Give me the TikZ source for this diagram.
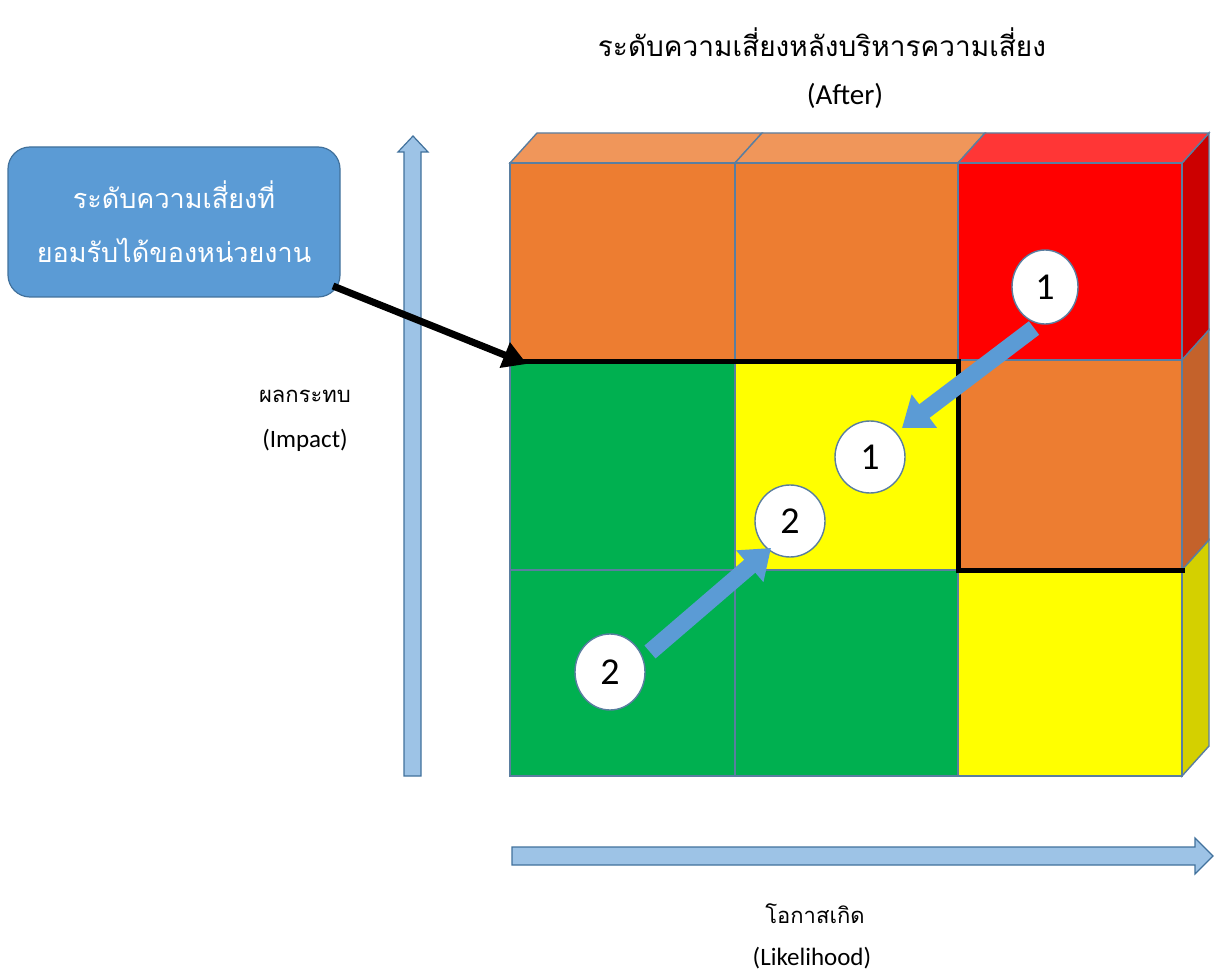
\documentclass[tikz,border=0pt]{standalone}
\usepackage{fontspec}
\setmainfont{Carlito}
\newfontfamily\thai[Script=Thai]{Loma}
\usetikzlibrary{calc,arrows.meta}
\definecolor{gridline}{HTML}{5A7EA0}
\definecolor{cor}{HTML}{ED7D31}
\definecolor{corT}{HTML}{F0965A}
\definecolor{corS}{HTML}{C4622B}
\definecolor{cred}{HTML}{FF0000}
\definecolor{credT}{HTML}{FF3636}
\definecolor{credS}{HTML}{CC0000}
\definecolor{cgreen}{HTML}{00B050}
\definecolor{cyel}{HTML}{FFFF00}
\definecolor{cyelS}{HTML}{D4D000}
\definecolor{boxblue}{HTML}{5B9BD5}
\definecolor{boxline}{HTML}{41719C}
\definecolor{axisblue}{HTML}{9DC3E6}
\tikzset{
  cell/.style={draw=gridline, line width=1.4pt},
  badge/.style={ellipse, draw=gridline, fill=white, line width=1.4pt, minimum width=70pt, minimum height=72pt, inner sep=0pt, font=\fontsize{38}{38}\selectfont},
  axisarrow/.style={fill=axisblue, draw=boxline, line width=1.2pt},
  thailabel/.style={font=\thai\fontsize{22}{26}\selectfont, align=center},
  latinlabel/.style={font=\fontsize{25}{28}\selectfont},
}
\usetikzlibrary{shapes.geometric}
\begin{document}
\begin{tikzpicture}[x=1pt,y=-1pt]
\useasboundingbox (0,0) rectangle (1216,973);
% titles
\node[font=\thai\fontsize{28}{30}\selectfont] (title) at (822,42) {ระดับความเสี่ยงหลังบริหารความเสี่ยง};
\node[font=\fontsize{29}{30}\selectfont] (after) at (845,96) {(After)};
% axes
\draw[axisarrow] (404,776) -- (404,152) -- (398,152) -- (413,136) -- (428,152) -- (421,152) -- (421,776) -- cycle;
\draw[axisarrow] (512,847) -- (1195,847) -- (1195,838) -- (1213,856) -- (1195,874) -- (1195,865) -- (512,865) -- cycle;
\node[thailabel] (impactth) at (305,396) {ผลกระทบ};
\node[latinlabel] (impact) at (305,440) {(Impact)};
\node[thailabel] (liketh) at (815,914) {โอกาสเกิด};
\node[latinlabel] (like) at (812,958) {(Likelihood)};
% right faces
\def\dx{27}\def\dy{-30}
\draw[cell, fill=credS] (1182,163) -- ++(\dx,\dy) -- (1182+\dx,360+\dy) -- (1182,360) -- cycle;
\draw[cell, fill=corS] (1182,360) -- ++(\dx,\dy) -- (1182+\dx,570+\dy) -- (1182,570) -- cycle;
\draw[cell, fill=cyelS] (1182,570) -- ++(\dx,\dy) -- (1182+\dx,776+\dy) -- (1182,776) -- cycle;
% top faces
\draw[cell, fill=corT] (510,163) -- ++(\dx,\dy) -- (735+\dx,163+\dy) -- (735,163) -- cycle;
\draw[cell, fill=corT] (735,163) -- ++(\dx,\dy) -- (958+\dx,163+\dy) -- (958,163) -- cycle;
\draw[cell, fill=credT] (958,163) -- ++(\dx,\dy) -- (1182+\dx,163+\dy) -- (1182,163) -- cycle;
% front cells
\draw[cell, fill=cor] (510,163) rectangle (735,360);
\draw[cell, fill=cor] (735,163) rectangle (958,360);
\draw[cell, fill=cred] (958,163) rectangle (1182,360);
\draw[cell, fill=cgreen] (510,360) rectangle (735,570);
\draw[cell, fill=cyel] (735,360) rectangle (958,570);
\draw[cell, fill=cor] (958,360) rectangle (1182,570);
\draw[cell, fill=cgreen] (510,570) rectangle (735,776);
\draw[cell, fill=cgreen] (735,570) rectangle (958,776);
\draw[cell, fill=cyel] (958,570) rectangle (1182,776);
% acceptance boundary
\draw[line width=5pt, line join=miter] (522,362) -- (958,362) -- (958,570) -- (1185,570);
% box and pointer
\node[draw=boxline, fill=boxblue, rounded corners=22pt, line width=1.2pt, minimum width=332pt, minimum height=150pt, text=white, font=\thai\fontsize{27}{54}\selectfont, align=center] (box) at (174,222) {ระดับความเสี่ยงที่\\ยอมรับได้ของหน่วยงาน};
\coordinate (bstart) at (333,286);
\coordinate (bend) at (527,364);
\draw[line width=7pt, -{Triangle[length=24pt,width=26pt]}] (bstart) -- (bend);
% badges
\node[badge, minimum width=66pt, minimum height=74pt] (r1) at (1045,287) {1};
\node[badge] (y1) at (870,457) {1};
\node[badge] (y2) at (790,521) {2};
\node[badge, minimum height=76pt] (g2) at (610,672) {2};
% block arrows
\coordinate (a1s) at (1034,328);
\coordinate (a1e) at (902,428);
\coordinate (a2s) at (650,652);
\coordinate (a2e) at (771,548);
\draw[boxblue, line width=17pt, -{Triangle[length=28pt,width=40pt]}] (a1s) -- (a1e);
\draw[boxblue, line width=17pt, -{Triangle[length=28pt,width=40pt]}] (a2s) -- (a2e);
\end{tikzpicture}
\end{document}
